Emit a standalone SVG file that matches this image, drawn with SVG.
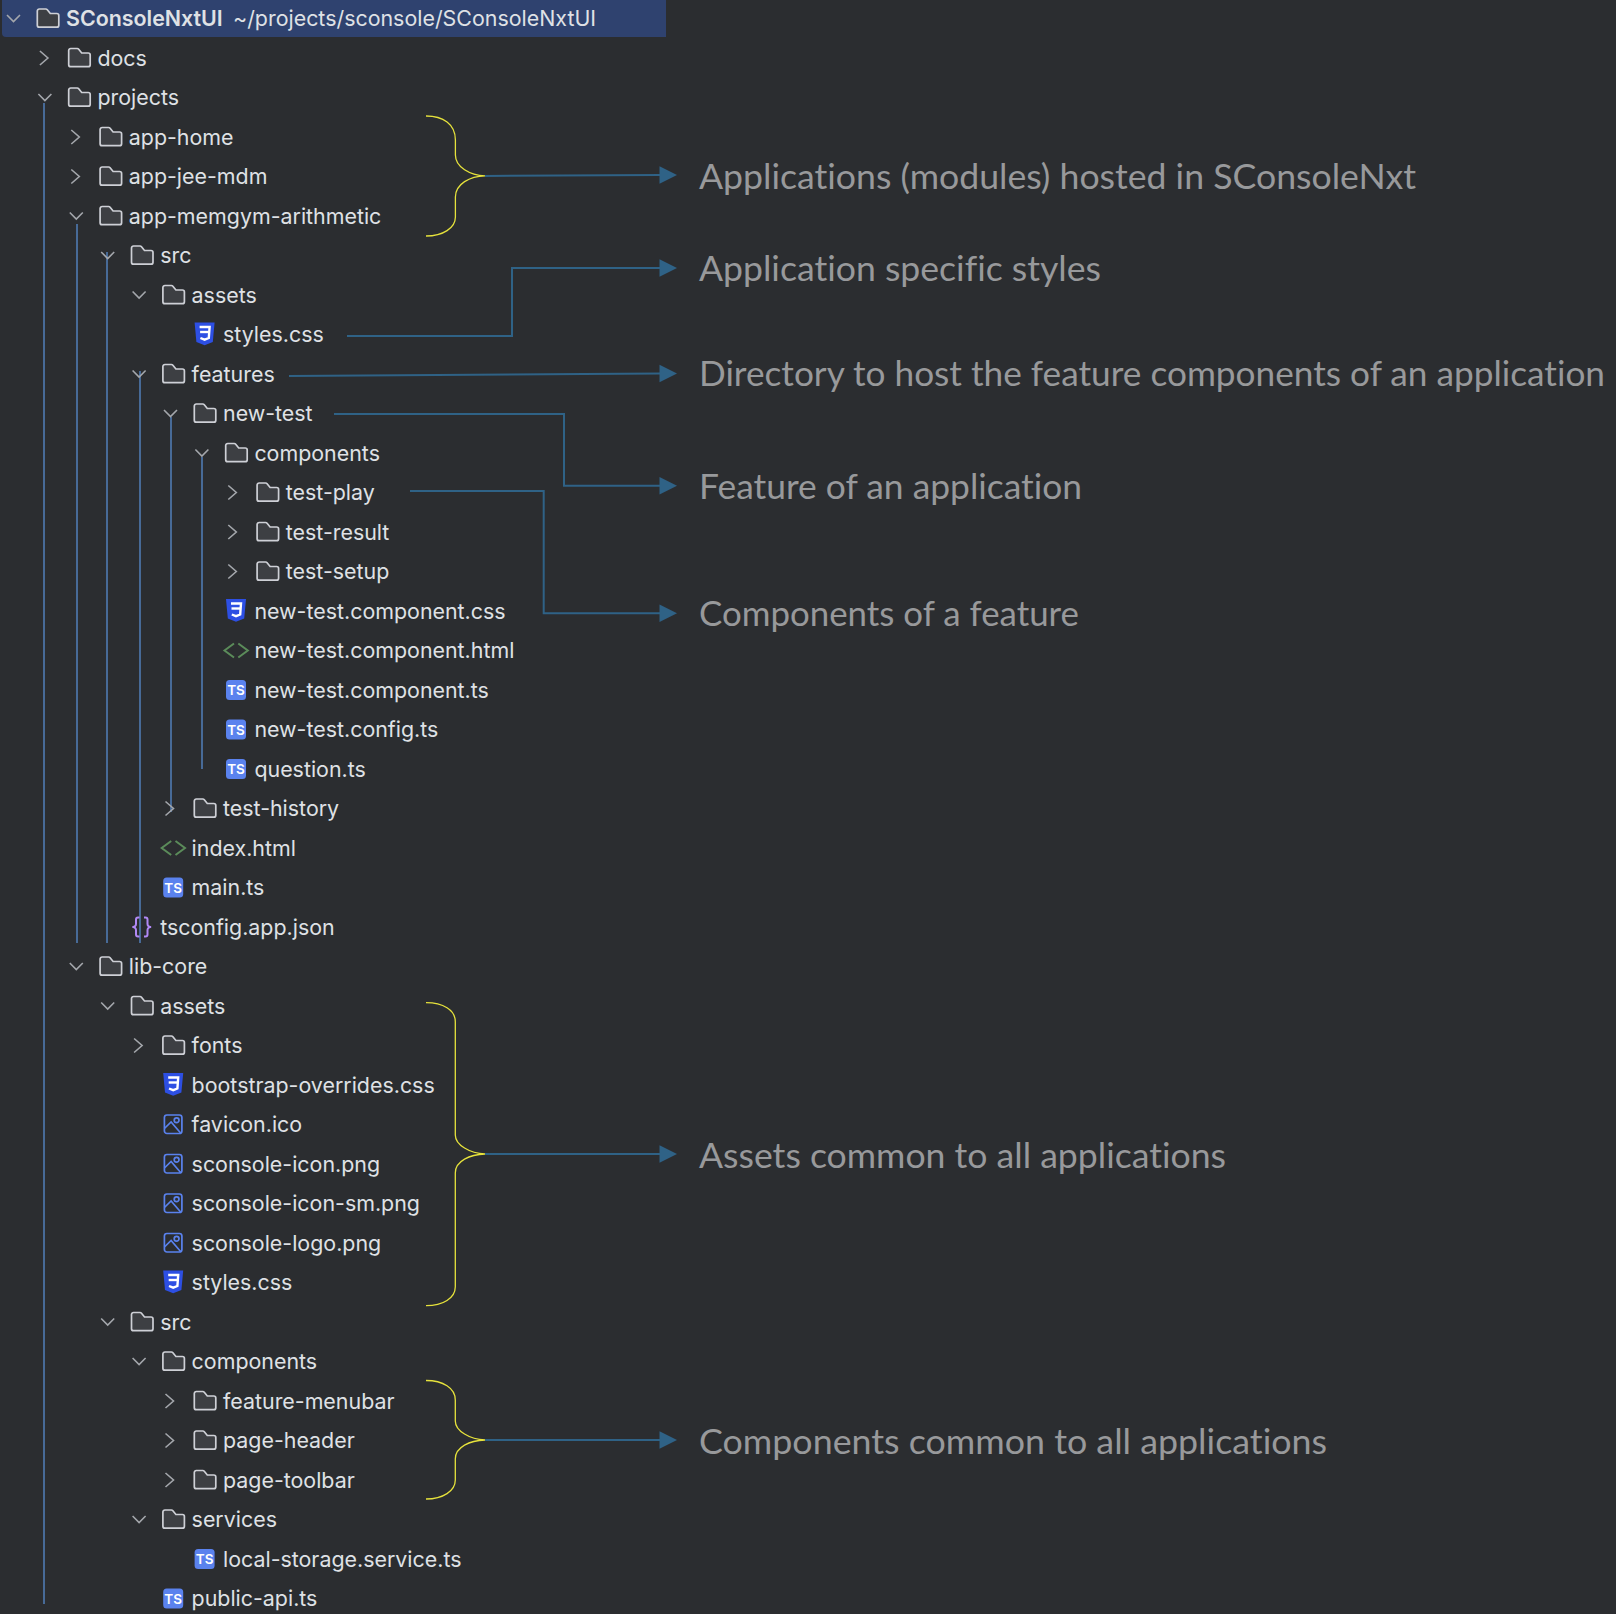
<svg xmlns="http://www.w3.org/2000/svg" xmlns:xlink="http://www.w3.org/1999/xlink" width="1616" height="1614" viewBox="0 0 1616 1614">
<style>
.t{font-family:"Inter","Liberation Sans",sans-serif;font-size:21.4px;fill:#dfe1e5}
.b{font-weight:600}
.a{font-family:"Lato","Liberation Sans",sans-serif;font-weight:400;font-size:35px;fill:#98999b;font-variant-ligatures:none}
.ts{font-family:"Inter","Liberation Sans",sans-serif;font-size:13.5px;font-weight:600;fill:#fff;text-anchor:middle}
.guide{stroke:#476a97;stroke-width:2;fill:none}
.conn{stroke:#2f6286;stroke-width:2;fill:none}
.brace{stroke:#e6e23c;stroke-width:1.3;fill:none}
.chev{stroke:#a4a7ac;stroke-width:1.6;fill:none}
</style>
<defs>
<polyline id="cd" class="chev" points="-6.5,-3.5 0,3 6.5,-3.5"/>
<polyline id="cr" class="chev" points="-5,-7 3,0 -5,7"/>
<path id="folder" d="M1 -7.5a2 2 0 0 1 2 -2h6.5a2 2 0 0 1 1.5 .7l3 3.8h6.5a2 2 0 0 1 2 2v9.7a2 2 0 0 1 -2 2h-17.5a2 2 0 0 1 -2 -2z" fill="#3d3f43" stroke="#ced0d6" stroke-width="1.7"/>
<g id="css">
<path d="M0 -12h20l-1.8 19.5-8.2 3.2-8.2-3.2z" fill="#2d4fe3"/>
<polyline points="5,-7.5 15,-7.5 14.2,3.5 10,5.2 5.8,3.5" fill="none" stroke="#fff" stroke-width="2.4"/>
<path d="M5.5 -2.5h9" stroke="#fff" stroke-width="2.4"/>
</g>
<g id="html" fill="none" stroke="#5b8c5a" stroke-width="2">
<polyline points="10,-7 0.5,0 10,7"/>
<polyline points="14.3,-7 23.8,0 14.3,7"/>
</g>
<rect id="tsbox" x="0" y="-10" width="20" height="20" rx="3.5" fill="#5a82ee"/>
<g id="img" fill="none" stroke="#5a82ee" stroke-width="1.7">
<rect x="0.8" y="-9.5" width="17.5" height="18.5" rx="2.5"/>
<circle cx="13" cy="-4.2" r="2.4"/>
<polyline points="0.8,4 7.5,-2.5 17,8.5"/>
</g>
<g id="json" fill="none" stroke="#b189f5" stroke-width="2">
<path d="M7.5 -9.5h-1.5a2 2 0 0 0 -2 2v4.5a3 3 0 0 1 -3.5 3a3 3 0 0 1 3.5 3v4.5a2 2 0 0 0 2 2h1.5"/>
<path d="M12 -9.5h1.5a2 2 0 0 1 2 2v4.5a3 3 0 0 0 3.5 3a3 3 0 0 0 -3.5 3v4.5a2 2 0 0 1 -2 2h-1.5"/>
</g>
<path id="arrowhead" d="M0 0L-17.5 -8.7V8.7z" fill="#2f6286"/>
</defs>
<rect width="1616" height="1614" fill="#2b2d30"/>
<path d="M2 0H666V37H6a4 4 0 0 1 -4 -4z" fill="#2f426f"/>
<g id="guides">
<path class="guide" d="M44 103V1604"/>
<path class="guide" d="M77 224V943"/>
<path class="guide" d="M107 252V943"/>
<path class="guide" d="M140 371V943"/>
<path class="guide" d="M171 417V812"/>
<path class="guide" d="M202 457V769"/>
</g>
<g id="n0"><use href="#cd" x="13.5" y="18.5"/><use href="#folder" x="36.3" y="18.5"/><text class="t b" x="66" y="26">SConsoleNxtUI</text><text class="t" x="233" y="26">~/projects/sconsole/SConsoleNxtUI</text></g>
<g id="n1"><use href="#cr" x="44.9" y="58"/><use href="#folder" x="67.7" y="58"/><text class="t" x="97.4" y="65.5">docs</text></g>
<g id="n2"><use href="#cd" x="44.9" y="97.5"/><use href="#folder" x="67.7" y="97.5"/><text class="t" x="97.4" y="105">projects</text></g>
<g id="n3"><use href="#cr" x="76.3" y="137"/><use href="#folder" x="99.1" y="137"/><text class="t" x="128.8" y="144.5">app-home</text></g>
<g id="n4"><use href="#cr" x="76.3" y="176.5"/><use href="#folder" x="99.1" y="176.5"/><text class="t" x="128.8" y="184">app-jee-mdm</text></g>
<g id="n5"><use href="#cd" x="76.3" y="216"/><use href="#folder" x="99.1" y="216"/><text class="t" x="128.8" y="223.5">app-memgym-arithmetic</text></g>
<g id="n6"><use href="#cd" x="107.7" y="255.5"/><use href="#folder" x="130.5" y="255.5"/><text class="t" x="160.2" y="263">src</text></g>
<g id="n7"><use href="#cd" x="139.1" y="295"/><use href="#folder" x="161.9" y="295"/><text class="t" x="191.6" y="302.5">assets</text></g>
<g id="n8"><use href="#css" x="194.6" y="334.5"/><text class="t" x="223" y="342">styles.css</text></g>
<g id="n9"><use href="#cd" x="139.1" y="374"/><use href="#folder" x="161.9" y="374"/><text class="t" x="191.6" y="381.5">features</text></g>
<g id="n10"><use href="#cd" x="170.5" y="413.5"/><use href="#folder" x="193.3" y="413.5"/><text class="t" x="223" y="421">new-test</text></g>
<g id="n11"><use href="#cd" x="201.9" y="453"/><use href="#folder" x="224.7" y="453"/><text class="t" x="254.4" y="460.5">components</text></g>
<g id="n12"><use href="#cr" x="233.3" y="492.5"/><use href="#folder" x="256.1" y="492.5"/><text class="t" x="285.8" y="500">test-play</text></g>
<g id="n13"><use href="#cr" x="233.3" y="532"/><use href="#folder" x="256.1" y="532"/><text class="t" x="285.8" y="539.5">test-result</text></g>
<g id="n14"><use href="#cr" x="233.3" y="571.5"/><use href="#folder" x="256.1" y="571.5"/><text class="t" x="285.8" y="579">test-setup</text></g>
<g id="n15"><use href="#css" x="226" y="611"/><text class="t" x="254.4" y="618.5">new-test.component.css</text></g>
<g id="n16"><use href="#html" x="224" y="650.5"/><text class="t" x="254.4" y="658">new-test.component.html</text></g>
<g id="n17"><use href="#tsbox" x="226" y="690"/><text class="ts" x="236" y="695">TS</text><text class="t" x="254.4" y="697.5">new-test.component.ts</text></g>
<g id="n18"><use href="#tsbox" x="226" y="729.5"/><text class="ts" x="236" y="734.5">TS</text><text class="t" x="254.4" y="737">new-test.config.ts</text></g>
<g id="n19"><use href="#tsbox" x="226" y="769"/><text class="ts" x="236" y="774">TS</text><text class="t" x="254.4" y="776.5">question.ts</text></g>
<g id="n20"><use href="#cr" x="170.5" y="808.5"/><use href="#folder" x="193.3" y="808.5"/><text class="t" x="223" y="816">test-history</text></g>
<g id="n21"><use href="#html" x="161.2" y="848"/><text class="t" x="191.6" y="855.5">index.html</text></g>
<g id="n22"><use href="#tsbox" x="163.2" y="887.5"/><text class="ts" x="173.2" y="892.5">TS</text><text class="t" x="191.6" y="895">main.ts</text></g>
<g id="n23"><use href="#json" x="132" y="927"/><text class="t" x="160.2" y="934.5">tsconfig.app.json</text></g>
<g id="n24"><use href="#cd" x="76.3" y="966.5"/><use href="#folder" x="99.1" y="966.5"/><text class="t" x="128.8" y="974">lib-core</text></g>
<g id="n25"><use href="#cd" x="107.7" y="1006"/><use href="#folder" x="130.5" y="1006"/><text class="t" x="160.2" y="1013.5">assets</text></g>
<g id="n26"><use href="#cr" x="139.1" y="1045.5"/><use href="#folder" x="161.9" y="1045.5"/><text class="t" x="191.6" y="1053">fonts</text></g>
<g id="n27"><use href="#css" x="163.2" y="1085"/><text class="t" x="191.6" y="1092.5">bootstrap-overrides.css</text></g>
<g id="n28"><use href="#img" x="163.6" y="1124.5"/><text class="t" x="191.6" y="1132">favicon.ico</text></g>
<g id="n29"><use href="#img" x="163.6" y="1164"/><text class="t" x="191.6" y="1171.5">sconsole-icon.png</text></g>
<g id="n30"><use href="#img" x="163.6" y="1203.5"/><text class="t" x="191.6" y="1211">sconsole-icon-sm.png</text></g>
<g id="n31"><use href="#img" x="163.6" y="1243"/><text class="t" x="191.6" y="1250.5">sconsole-logo.png</text></g>
<g id="n32"><use href="#css" x="163.2" y="1282.5"/><text class="t" x="191.6" y="1290">styles.css</text></g>
<g id="n33"><use href="#cd" x="107.7" y="1322"/><use href="#folder" x="130.5" y="1322"/><text class="t" x="160.2" y="1329.5">src</text></g>
<g id="n34"><use href="#cd" x="139.1" y="1361.5"/><use href="#folder" x="161.9" y="1361.5"/><text class="t" x="191.6" y="1369">components</text></g>
<g id="n35"><use href="#cr" x="170.5" y="1401"/><use href="#folder" x="193.3" y="1401"/><text class="t" x="223" y="1408.5">feature-menubar</text></g>
<g id="n36"><use href="#cr" x="170.5" y="1440.5"/><use href="#folder" x="193.3" y="1440.5"/><text class="t" x="223" y="1448">page-header</text></g>
<g id="n37"><use href="#cr" x="170.5" y="1480"/><use href="#folder" x="193.3" y="1480"/><text class="t" x="223" y="1487.5">page-toolbar</text></g>
<g id="n38"><use href="#cd" x="139.1" y="1519.5"/><use href="#folder" x="161.9" y="1519.5"/><text class="t" x="191.6" y="1527">services</text></g>
<g id="n39"><use href="#tsbox" x="194.6" y="1559"/><text class="ts" x="204.6" y="1564">TS</text><text class="t" x="223" y="1566.5">local-storage.service.ts</text></g>
<g id="n40"><use href="#tsbox" x="163.2" y="1598.5"/><text class="ts" x="173.2" y="1603.5">TS</text><text class="t" x="191.6" y="1606">public-api.ts</text></g>
<g id="connectors">
<path class="conn" d="M485 176L660 175"/><use href="#arrowhead" x="677" y="175"/>
<path class="conn" d="M347 336H512V268H660"/><use href="#arrowhead" x="677" y="268"/>
<path class="conn" d="M289 376L660 373.5"/><use href="#arrowhead" x="677" y="373.5"/>
<path class="conn" d="M334 414H564V485.7H660"/><use href="#arrowhead" x="677" y="485.7"/>
<path class="conn" d="M410 491H543.7V613.3H660"/><use href="#arrowhead" x="677" y="613.3"/>
<path class="conn" d="M485 1154H660"/><use href="#arrowhead" x="677" y="1154"/>
<path class="conn" d="M485 1440H660"/><use href="#arrowhead" x="677" y="1440"/>
<path class="brace" d="M426 116C443 116 455.4 124 455.4 140V155C455.4 167 470 175.5 485 175.8C470 176 455.4 184 455.4 197V217C455.4 228 443 236 426 236"/>
<path class="brace" d="M426 1002.7C443 1002.7 455.3 1010 455.3 1021.7V1135C455.3 1145 470 1153.5 485 1154C470 1154.5 455.3 1161 455.3 1173V1286.7C455.3 1298 443 1305.7 426 1305.7"/>
<path class="brace" d="M426 1380.5C443 1380.5 455.3 1388 455.3 1400V1421C455.3 1431 470 1439.5 485 1440C470 1440.5 455.3 1447 455.3 1459V1480C455.3 1491 443 1499 426 1499"/>
</g>
<g id="annotations">
<text class="a" x="699" y="188.5" textLength="717" lengthAdjust="spacingAndGlyphs">Applications (modules) hosted in SConsoleNxt</text>
<text class="a" x="699" y="280.5" textLength="402" lengthAdjust="spacingAndGlyphs">Application specific styles</text>
<text class="a" x="699" y="385.5" textLength="906" lengthAdjust="spacingAndGlyphs">Directory to host the feature components of an application</text>
<text class="a" x="699" y="498.5" textLength="383" lengthAdjust="spacingAndGlyphs">Feature of an application</text>
<text class="a" x="699" y="626" textLength="380" lengthAdjust="spacingAndGlyphs">Components of a feature</text>
<text class="a" x="699" y="1167.5" textLength="527" lengthAdjust="spacingAndGlyphs">Assets common to all applications</text>
<text class="a" x="699" y="1453.5" textLength="628" lengthAdjust="spacingAndGlyphs">Components common to all applications</text>
</g>
</svg>
